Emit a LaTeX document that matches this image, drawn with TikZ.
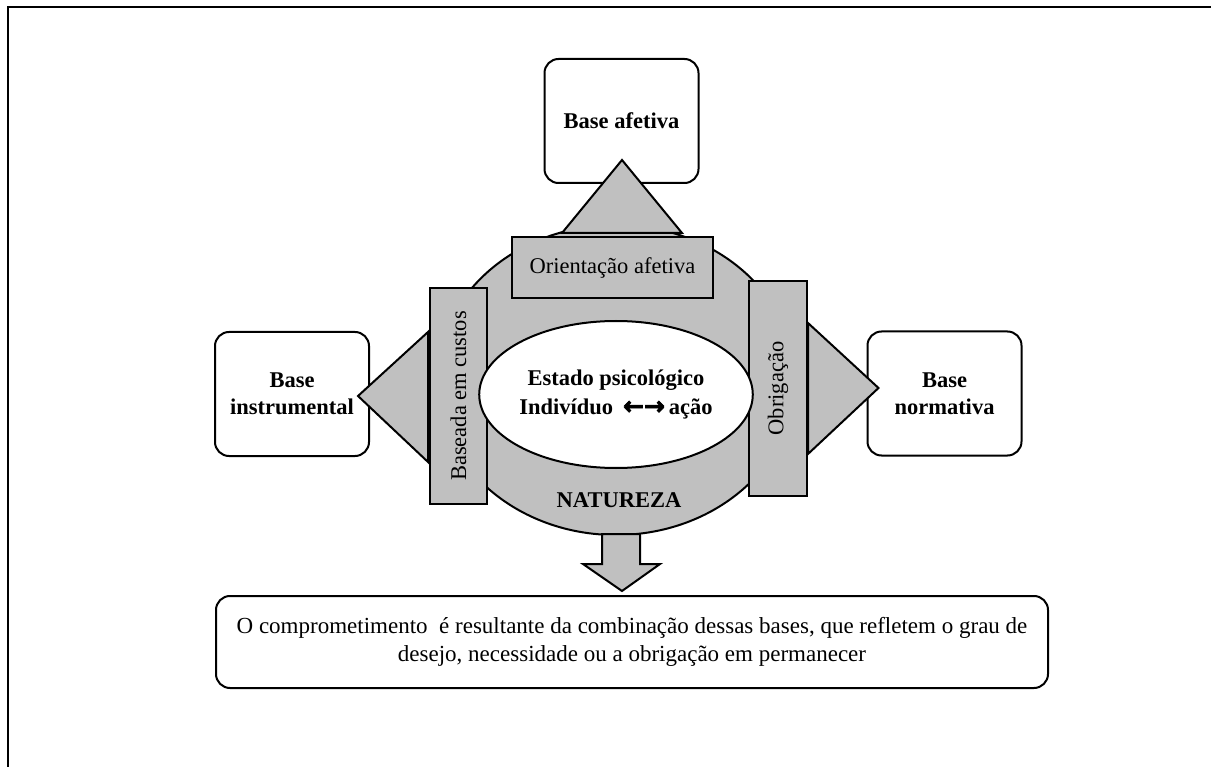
\documentclass[tikz,border=0pt]{standalone}
\usepackage{fontspec}
\setmainfont{Liberation Serif}
\newfontfamily\setasfont[FakeBold=3]{DejaVu Sans}
\usepackage{tikz}
\usetikzlibrary{calc,positioning,shapes.geometric}
\definecolor{cinza}{RGB}{192,192,192}
\newcommand{\fonte}{\fontsize{22.5}{27}\selectfont}
\tikzset{
		basebox/.style={
			rectangle,
			rounded corners=14pt,
			draw=black, line width=2pt,
			fill=white,
			minimum width=154pt,
			minimum height=124pt,
			inner sep=0pt,
			align=center,
			font=\fonte\bfseries},
		faixa/.style={
			rectangle,
			draw=black, line width=2pt,
			fill=cinza,
			inner sep=0pt,
			font=\fonte},
		ponta/.style={draw=black, line width=2pt, fill=cinza, line join=miter},
	}

\begin{document}
\begin{tikzpicture}[x=1pt, y=-1pt,
			oval/.style={ellipse, draw=black, line width=2pt, inner sep=0pt},
			]
			\useasboundingbox (0,0) rectangle (1211,767);
			\draw[line width=2.5pt] (8,767) -- (8,7) -- (1211,7);
			
			% as tres bases
			\node[basebox] (afet) at (621.5,121) {Base afetiva};
			\node[basebox] (instr) at (292,394) {Base\\instrumental};
			\node[basebox] (norm) at (944.5,393.5) {Base\\normativa};
			
			\node[oval, fill=cinza, minimum width=358pt, minimum height=310pt] (natureza) at (616,380) {};
			\coordinate (seta) at ($(natureza.south)+(5,-2)$);
			
			% pontas
			\filldraw[ponta] ($(afet.south)+(0.5,-24)$) -- (562,233) -- (682,233) -- cycle;
			\filldraw[ponta] ($(instr.east)+(-12,2)$) -- (428,332) -- (428,462) -- cycle;
			\filldraw[ponta] ($(norm.west)+(12,-5.5)$) -- (808,323) -- (808,454) -- cycle;
			
			\node[faixa, minimum width=201pt, minimum height=61pt] (orient) at (612.5,267.5) {Orientação afetiva};
			\node[faixa, rotate=90, minimum width=216pt, minimum height=57pt] (custos) at (458.5,396) {Baseada em custos};
			\node[faixa, rotate=90, minimum width=215pt, minimum height=58pt] (obrig) at (778,388.5) {Obrigação};
			
			\node[oval, fill=white, minimum width=224pt, minimum height=147pt,
			align=center, font=\fontsize{22.5}{29}\selectfont\bfseries] (estado) at (616,394.5)
			{Estado psicológico\\Indivíduo\hspace{10pt}{\setasfont\fontsize{25}{29}\selectfont ←→}\hspace{4pt}ação};
			\node[font=\fonte\bfseries] (rotulo) at (619,500) {NATUREZA};
			
			\node[basebox, font=\fontsize{23}{28}\selectfont, minimum width=832pt, minimum height=92pt] (conclusao) at (632,642)
			{O comprometimento\ \ é resultante da combinação dessas bases, que refletem o grau de\\
			desejo, necessidade ou a obrigação em permanecer};
			
			\coordinate (bico) at ($(conclusao.north)+(-10,-4)$);
			\filldraw[ponta] ($(seta)+(-19,0)$) -- ++(0,30) -- ++(-19,0) -- (bico)
			-- ($(seta)+(39,30)$) -- ++(-20,0) -- ++(0,-30) -- cycle;
			\end{tikzpicture}
\end{document}
